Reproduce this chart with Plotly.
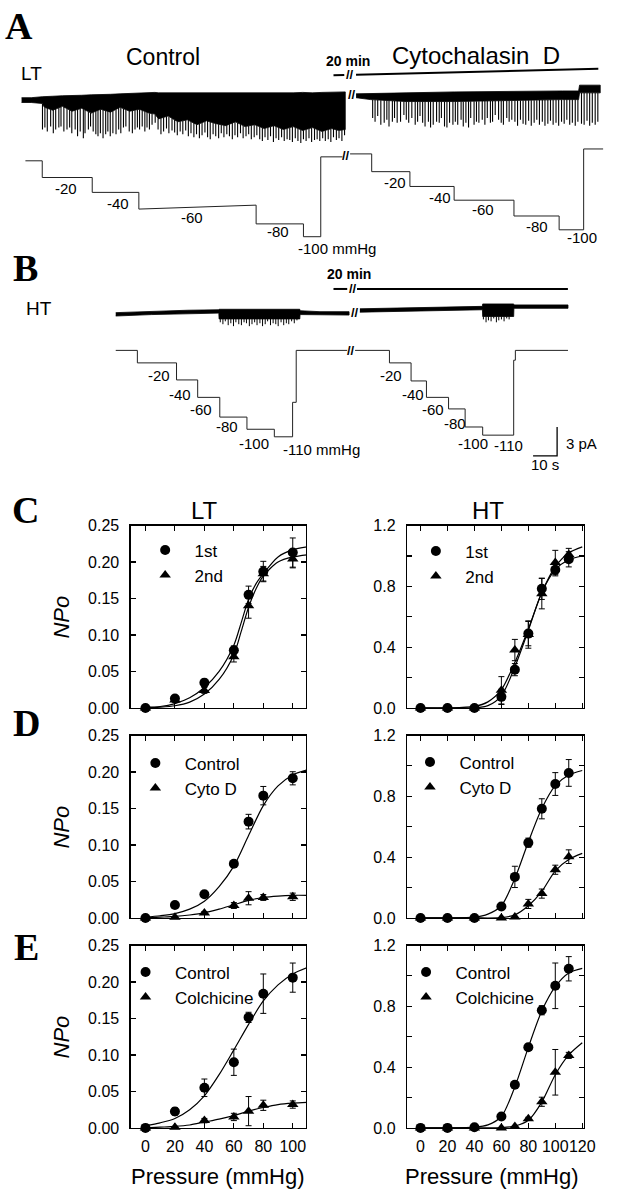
import numpy as np
import plotly.graph_objects as go

W, H = 626, 1200
SANS = "Liberation Sans"
SERIF = "Liberation Serif"

# =====================================================================
# DATA
# =====================================================================
# ---- Panels C-E : NPo versus suction pressure (mmHg) ----
lt_pressure = [0, 20, 40, 60, 70, 80, 100]
ht_pressure = [0, 20, 40, 60, 70, 80, 90, 100, 110]

C_lt_first = [0, 0.013, 0.0345, 0.079, 0.155, 0.187, 0.213]
C_lt_first_err = [0, 0.004, 0.005, 0.006, 0.012, 0.014, 0.020]
C_lt_second = [0, 0.011, 0.024, 0.070, 0.140, 0.184, 0.204]
C_lt_second_err = [0, 0.003, 0.004, 0.007, 0.017, 0.010, 0.012]
C_ht_first = [0, 0, 0, 0.073, 0.252, 0.489, 0.784, 0.909, 0.978]
C_ht_first_err = [0, 0, 0, 0.05, 0.04, 0.08, 0.07, 0.04, 0.05]
C_ht_second = [0, 0, 0, 0.116, 0.381, 0.483, 0.752, 0.957, 1.01]
C_ht_second_err = [0, 0, 0, 0.09, 0.07, 0.09, 0.10, 0.08, 0.04]

D_lt_control = [0, 0.0176, 0.0324, 0.0743, 0.132, 0.1676, 0.1914]
D_lt_control_err = [0, 0.002, 0.003, 0.003, 0.010, 0.0126, 0.009]
D_lt_cyto = [0, 0.001, 0.0068, 0.017, 0.027, 0.028, 0.029]
D_lt_cyto_err = [0, 0.001, 0.002, 0.004, 0.009, 0.004, 0.005]
D_ht_control = [0, 0, 0, 0.075, 0.27, 0.495, 0.718, 0.881, 0.954]
D_ht_control_err = [0, 0, 0, 0.02, 0.07, 0.03, 0.066, 0.075, 0.088]
D_ht_cyto = [0, 0, 0, 0.0, 0.006, 0.092, 0.16, 0.317, 0.403]
D_ht_cyto_err = [0, 0, 0, 0, 0, 0.03, 0.03, 0.03, 0.045]

E_lt_control = [0, 0.0225, 0.055, 0.090, 0.1515, 0.184, 0.206]
E_lt_control_err = [0, 0.005, 0.012, 0.018, 0.007, 0.027, 0.020]
E_lt_colch = [0, 0.001, 0.010, 0.015, 0.023, 0.031, 0.032]
E_lt_colch_err = [0, 0.001, 0.003, 0.005, 0.020, 0.007, 0.005]
E_ht_control = [0, 0, 0.004, 0.075, 0.284, 0.531, 0.774, 0.935, 1.047]
E_ht_control_err = [0, 0, 0, 0.02, 0.02, 0.02, 0.03, 0.15, 0.08]
E_ht_colch = [0, 0, 0, 0, 0.01, 0.06, 0.172, 0.366, 0.477]
E_ht_colch_err = [0, 0, 0, 0, 0, 0.01, 0.03, 0.15, 0.02]

# fitted Boltzmann curves
C_lt_fit_x = [0, 10, 20, 30, 40, 50, 60, 65, 70, 75, 80, 90, 100, 110]
C_lt_fit_first = [0.001, 0.002, 0.006, 0.014, 0.028, 0.050, 0.086, 0.117, 0.149, 0.170, 0.184, 0.207, 0.217, 0.221]
C_lt_fit_second = [0.000, 0.001, 0.003, 0.008, 0.019, 0.039, 0.073, 0.105, 0.138, 0.163, 0.181, 0.200, 0.207, 0.210]
C_ht_fit_x = [0, 20, 40, 50, 60, 70, 80, 90, 100, 110, 120]
C_ht_fit_first = [0, 0, 0.0, 0.015, 0.08, 0.27, 0.51, 0.76, 0.91, 0.975, 1.0]
C_ht_fit_second = [0, 0, 0.01, 0.04, 0.12, 0.30, 0.52, 0.76, 0.93, 1.02, 1.06]

D_lt_fit_x = [0, 10, 20, 30, 40, 50, 60, 70, 80, 90, 100, 110]
D_lt_fit_control = [0.001, 0.003, 0.006, 0.012, 0.023, 0.043, 0.071, 0.113, 0.154, 0.181, 0.196, 0.203]
D_lt_fit_cyto = [0.0, 0.001, 0.002, 0.004, 0.007, 0.012, 0.018, 0.024, 0.028, 0.030, 0.031, 0.031]
D_ht_fit_control_x = [0, 20, 40, 50, 60, 70, 80, 90, 100, 110, 120]
D_ht_fit_control = [0, 0, 0.005, 0.025, 0.08, 0.26, 0.50, 0.72, 0.87, 0.94, 0.97]
D_ht_fit_cyto_x = [0, 20, 40, 60, 70, 80, 90, 100, 110, 120]
D_ht_fit_cyto = [0, 0, 0, 0.002, 0.02, 0.08, 0.175, 0.31, 0.385, 0.425]

E_lt_fit_x = [0, 10, 20, 30, 40, 50, 60, 70, 80, 90, 100, 110]
E_lt_fit_control = [0.003, 0.007, 0.013, 0.025, 0.044, 0.073, 0.107, 0.142, 0.174, 0.196, 0.211, 0.220]
E_lt_fit_colch = [0.0, 0.001, 0.002, 0.004, 0.008, 0.012, 0.017, 0.023, 0.028, 0.032, 0.034, 0.035]
E_ht_fit_x = [0, 20, 40, 50, 60, 70, 80, 90, 100, 110, 120]
E_ht_fit_control = [0, 0, 0.005, 0.02, 0.075, 0.27, 0.53, 0.77, 0.93, 1.02, 1.05]
E_ht_fit_colch = [0, 0, 0, 0.0, 0.002, 0.012, 0.05, 0.17, 0.35, 0.48, 0.56]

# tick labels
lt_xticks = [0, 20, 40, 60, 80, 100]
ht_xticks = [0, 20, 40, 60, 80, 100, 120]
lt_yticks = [0, 0.05, 0.10, 0.15, 0.20, 0.25]
lt_yticktext = ["0.00", "0.05", "0.10", "0.15", "0.20", "0.25"]
ht_yticks = [0, 0.2, 0.4, 0.6, 0.8, 1.0, 1.2]
ht_yticktext = ["0.0", "", "0.4", "", "0.8", "", "1.2"]

# ---- Panel A : LT channel current record (time s, current pA) ----
lt_ctrl_band_t = [0, 4, 8.6, 9.5, 13, 17, 21, 25, 29, 33, 37, 41, 45, 49, 53, 55.5, 57, 61, 65, 69,
                  73, 77, 81, 85, 89, 93, 97, 101, 105, 109, 113, 117, 121, 125, 129, 132, 134.7]
lt_ctrl_band_top = [-0.1, -0.1, 0.0, 0.0, 0.05, 0.1, 0.1, 0.15, 0.2, 0.2, 0.25, 0.3, 0.35, 0.4, 0.45,
                    0.45, 0.4, 0.4, 0.35, 0.4, 0.4, 0.35, 0.4, 0.4, 0.35, 0.4, 0.4, 0.4, 0.35, 0.4,
                    0.4, 0.45, 0.4, 0.45, 0.45, 0.5, 0.5]
lt_ctrl_band_bottom = [-0.6, -0.6, -0.7, -1.1, -1.4, -1.0, -1.5, -1.2, -1.7, -1.3, -1.6, -1.1, -1.5,
                       -1.3, -1.7, -1.8, -2.3, -2.0, -2.6, -2.4, -2.9, -2.5, -2.8, -3.0, -2.6, -3.1,
                       -2.9, -3.3, -3.0, -3.4, -3.1, -3.5, -3.2, -3.6, -3.3, -3.5, -3.4]
lt_ctrl_open_t = [8.7, 9.7, 10.7, 12.1, 13.2, 14.2, 15.5, 16.4, 17.6, 18.9, 20.0, 20.9, 22.3, 23.3, 24.4,
                  25.7, 26.4, 27.8, 28.7, 29.8, 30.9, 31.8, 32.8, 33.9, 35.0, 35.9, 36.9, 38.0, 39.3, 40.4,
                  41.3, 42.4, 43.4, 44.8, 46.1, 47.2, 48.2, 49.1, 50.2, 51.3, 52.2, 53.2, 54.3, 55.6,
                  56.8, 58.0, 59.1, 60.3, 61.3, 62.6, 63.7, 64.8, 66.0, 67.1, 68.3, 69.4, 70.5, 71.7, 72.8,
                  74.0, 75.1, 76.3, 77.4, 78.5, 79.7, 80.8, 82.0, 83.1, 84.2, 85.4, 86.5, 87.7, 88.8, 89.9,
                  91.1, 92.2, 93.4, 94.5, 95.6, 96.8, 97.9, 99.1, 100.2, 101.3, 102.5, 103.6, 104.8, 105.9,
                  107.0, 108.2, 109.3, 110.5, 111.6, 112.7, 113.9, 115.0, 116.2, 117.3, 118.4, 119.6, 120.7,
                  121.9, 123.0, 124.1, 125.3, 126.4, 127.6, 128.7, 129.8, 131.0, 132.1, 133.3, 134.4]
lt_ctrl_open_amp = [-3.4, -3.2, -3.6, -3.1, -3.8, -3.4, -3.2, -3.1, -3.6, -3.4,
                    -3.2, -3.8, -3.4, -4.1, -3.6, -4.3, -3.8, -3.4, -3.1, -3.6,
                    -3.9, -4.1, -3.8, -4.3, -3.9, -3.6, -4.1, -3.8, -3.9, -3.4,
                    -3.8, -3.2, -3.1, -3.6, -3.8, -3.4, -3.2, -3.4, -3.1, -3.6,
                    -3.2, -3.4, -2.9, -2.7,
                    -3.4, -3.9, -3.6, -3.3, -3.8, -3.5, -3.7, -4.0, -3.6, -3.9, -3.5, -4.1,
                    -3.8, -4.2, -3.9, -4.3, -4.0, -3.7, -4.2, -4.4, -3.9, -4.1, -4.3, -3.8,
                    -4.2, -3.9, -4.1, -4.4, -4.0, -4.2, -3.8, -4.3, -4.1, -3.9, -4.4, -4.2,
                    -4.0, -4.4, -4.6, -4.2, -4.5, -4.1, -4.7, -4.3, -4.5, -4.2, -4.6, -4.4,
                    -4.5, -4.7, -4.3, -4.6, -4.8, -4.4, -4.6, -4.3, -4.7, -4.5, -4.4, -4.6,
                    -4.3, -4.6, -4.4, -4.7, -4.2, -4.5, -4.3, -4.6, -4.0]

lt_cyto_band_t = [139.2, 145.3, 160, 180, 205.3, 225, 231.8, 232.2, 240.8]
lt_cyto_band_top = [0.3, 0.35, 0.4, 0.5, 0.6, 0.6, 0.6, 1.2, 1.2]
lt_cyto_band_bottom = [-0.1, -0.3, -0.5, -0.5, -0.4, -0.3, -0.3, 0.4, 0.4]
lt_cyto_open_t = [146.1, 147.1, 148.2, 149.5, 150.9, 152.0, 152.9, 154.3, 155.2, 156.3,
                  157.7, 159.1, 160.1, 161.1, 162.4, 163.8, 164.8, 165.8, 166.9, 167.9,
                  169.3, 170.2, 171.3, 172.7, 173.8, 174.7, 176.0, 177.0, 178.1, 179.5,
                  180.5, 181.5, 182.9, 183.8, 184.9, 186.0, 186.9, 188.3, 189.3, 190.3,
                  191.7, 192.8, 193.8, 195.1, 196.0, 197.1, 198.5, 199.6, 200.5, 201.9,
                  202.9, 204.0,
                  205.3, 206.4, 207.6, 208.7, 209.8, 211.0, 212.1, 213.3, 214.4, 215.5,
                  216.7, 217.8, 219.0, 220.1, 221.2, 222.4, 223.5, 224.7, 225.8, 226.9,
                  228.1, 229.2, 230.4, 231.5, 233.0, 234.1, 235.3, 236.4, 237.5, 238.7, 239.8]
lt_cyto_open_amp = [-2.2, -2.6, -2.0, -2.9, -2.7, -2.4, -3.1, -2.6, -2.2, -2.7,
                    -2.6, -1.9, -2.4, -2.7, -2.2, -2.9, -2.6, -2.0, -2.7, -3.1,
                    -2.6, -3.2, -2.9, -2.6, -2.7, -2.2, -3.1, -3.2, -2.7, -2.9,
                    -2.6, -2.9, -2.4, -3.1, -2.7, -3.2, -2.2, -2.9, -2.6, -2.7,
                    -2.4, -2.9, -2.2, -2.7, -2.6, -1.9, -2.4, -2.7, -2.9, -2.2,
                    -2.6, -2.4,
                    -2.6, -3.0, -2.4, -2.8, -2.9, -2.5, -3.0, -2.7, -2.4, -2.9,
                    -2.6, -3.0, -2.8, -2.5, -2.9, -2.7, -3.0, -2.6, -2.8, -2.4,
                    -2.9, -2.7, -3.0, -2.6, -2.8, -2.9, -2.5, -3.0, -2.7, -2.9, -2.6]

# ---- Panel A : pressure monitor (time s, mmHg) ----
lt_press_ctrl_t = [1.6, 8.6, 8.6, 29.4, 29.4, 48.8, 48.8, 97.6, 97.6, 117.3, 117.3, 124.5, 124.5, 133.5]
lt_press_ctrl_p = [0, 0, -22, -22, -41.6, -41.6, -63.6, -58.4, -83.1, -83.1, -100, -100, 5.2, 5.2]
lt_press_cyto_t = [136.7, 145.7, 145.7, 161.6, 161.6, 180.0, 180.0, 204.9, 204.9, 223.7, 223.7, 233.9, 233.9, 242.0]
lt_press_cyto_p = [9.1, 9.1, -14.3, -14.3, -33.8, -33.8, -51.9, -51.9, -72.7, -72.7, -90.9, -90.9, 15.6, 15.6]
lt_step_labels = ["-20", "-40", "-60", "-80", "-100 mmHg", "-20", "-40", "-60", "-80", "-100"]

# ---- Panel B : HT channel current record ----
ht_ctrl_band_t = [0, 15, 30, 42.9, 43.0, 76.6, 76.7, 85, 97.1]
ht_ctrl_band_top = [0.1, 0.25, 0.35, 0.4, 0.45, 0.45, 0.3, 0.2, 0.2]
ht_ctrl_band_bottom = [-0.25, -0.1, 0.0, 0.05, -0.55, -0.55, -0.1, -0.15, -0.15]
ht_ctrl_open_t = [43.5, 44.6, 45.6, 46.8, 47.9, 49.0, 50.0, 51.2, 52.3, 53.4, 54.4, 55.6, 56.7, 57.8,
                  58.8, 60.0, 61.1, 62.2, 63.2, 64.4, 65.5, 66.6, 67.6, 68.8, 69.9, 71.0, 72.0, 73.2,
                  74.3, 75.4, 76.3]
ht_ctrl_open_amp = [-0.9, -1.1, -0.8, -1.2, -1.0, -1.3, -0.9, -1.1, -1.2, -0.9, -1.0, -1.3, -1.1, -0.9,
                    -1.2, -1.0, -1.3, -1.1, -0.8, -1.2, -1.0, -1.1, -1.3, -0.9, -1.2, -1.0, -1.1, -0.8,
                    -1.0, -0.7, -0.5]
ht_cyto_band_t = [101.6, 120, 140, 152.6, 152.7, 165.6, 165.7, 175, 188.2]
ht_cyto_band_top = [0.5, 0.6, 0.7, 0.75, 1.0, 1.0, 0.9, 0.9, 0.9]
ht_cyto_band_bottom = [0.15, 0.25, 0.35, 0.4, -0.3, -0.3, 0.55, 0.55, 0.55]
ht_cyto_open_t = [153.0, 154.1, 155.1, 156.2, 157.3, 158.4, 159.4, 160.5, 161.6, 162.7, 163.7, 164.8]
ht_cyto_open_amp = [-0.6, -0.9, -0.7, -0.8, -0.5, -0.9, -0.7, -0.6, -0.8, -0.5, -0.6, -0.3]

ht_press_ctrl_t = [0, 9.0, 9.0, 25.3, 25.3, 34.1, 34.1, 43.3, 43.3, 54.6, 54.6, 66.0, 66.0, 73.6, 73.6, 75.1, 75.1, 96.3]
ht_press_ctrl_p = [0, 0, -15.9, -15.9, -37.6, -37.6, -59.8, -59.8, -84.9, -84.9, -100.4, -100.4, -110, -110, -66.1, -66.1, 0, 0]
ht_press_cyto_t = [99.6, 113.9, 113.9, 122.9, 122.9, 129.3, 129.3, 138.5, 138.5, 145.4, 145.4, 152.7, 152.7, 165.6, 165.6, 166.3, 166.3, 188.2]
ht_press_cyto_p = [0, 0, -15.9, -15.9, -38.9, -38.9, -59.8, -59.8, -74.5, -74.5, -97.5, -97.5, -107.9, -107.9, -12.5, -12.5, 0, 0]
ht_step_labels = ["-20", "-40", "-60", "-80", "-100", "-110 mmHg", "-20", "-40", "-60", "-80", "-100", "-110"]

scale_time_s = 10
scale_current_pA = 3

# =====================================================================
# LAYOUT CONSTANTS (pixel geometry of the page)
# =====================================================================
def px_x(px):
    return px / W


def px_y(py):
    return 1 - py / H


def xdom(a, b):
    return [a / W, b / W]


def ydom(top, bot):
    return [1 - bot / H, 1 - top / H]


LEFT_X = (133.3, 312)
RIGHT_X = (415, 595)
ROWS = {"C": (525, 710), "D": (738, 923), "E": (951, 1136)}

PX_PER_S = 2.45
PX_PER_PA = 9.78
A_T0 = 22
B_T0 = 118

fig = go.Figure()

# =====================================================================
# Panels C-E
# =====================================================================
panels = [
    (1, "C", "lt", [("1st", C_lt_first, C_lt_first_err), ("2nd", C_lt_second, C_lt_second_err)],
     [(C_lt_fit_x, C_lt_fit_first), (C_lt_fit_x, C_lt_fit_second)], (167, 545)),
    (2, "C", "ht", [("1st", C_ht_first, C_ht_first_err), ("2nd", C_ht_second, C_ht_second_err)],
     [(C_ht_fit_x, C_ht_fit_first), (C_ht_fit_x, C_ht_fit_second)], (443, 546)),
    (3, "D", "lt", [("Control", D_lt_control, D_lt_control_err), ("Cyto D", D_lt_cyto, D_lt_cyto_err)],
     [(D_lt_fit_x, D_lt_fit_control), (D_lt_fit_x, D_lt_fit_cyto)], (157, 761)),
    (4, "D", "ht", [("Control", D_ht_control, D_ht_control_err), ("Cyto D", D_ht_cyto, D_ht_cyto_err)],
     [(D_ht_fit_control_x, D_ht_fit_control), (D_ht_fit_cyto_x, D_ht_fit_cyto)], (437, 760)),
    (5, "E", "lt", [("Control", E_lt_control, E_lt_control_err), ("Colchicine", E_lt_colch, E_lt_colch_err)],
     [(E_lt_fit_x, E_lt_fit_control), (E_lt_fit_x, E_lt_fit_colch)], (147, 973)),
    (6, "E", "ht", [("Control", E_ht_control, E_ht_control_err), ("Colchicine", E_ht_colch, E_ht_colch_err)],
     [(E_ht_fit_x, E_ht_fit_control), (E_ht_fit_x, E_ht_fit_colch)], (433, 973)),
]

layout_axes = {}
legends = {}
for idx, row, side, series, fits, legpos in panels:
    sfx = "" if idx == 1 else str(idx)
    xa, ya = "x" + sfx, "y" + sfx
    lg = "legend" + sfx
    xs = lt_pressure if side == "lt" else ht_pressure
    for fx, fy in fits:
        fig.add_trace(go.Scatter(x=fx, y=fy, mode="lines", xaxis=xa, yaxis=ya,
                                 line=dict(color="black", width=1.2, shape="spline", smoothing=0.8),
                                 showlegend=False, hoverinfo="skip"))
    # triangles first so that circles sit on top where they coincide
    for rank, (name, vals, err), sym in reversed(list(zip([1, 2], series, ["circle", "triangle-up"]))):
        fig.add_trace(go.Scatter(x=xs, y=vals, mode="markers", name="\u00a0\u00a0" + name,
                                 xaxis=xa, yaxis=ya,
                                 legend=lg, legendrank=rank, cliponaxis=False,
                                 marker=dict(symbol=sym, size=10, color="black"),
                                 error_y=dict(type="data", array=err, color="black", thickness=1, width=3)))
    xd = LEFT_X if side == "lt" else RIGHT_X
    top, bot = ROWS[row]
    common = dict(showline=True, linecolor="black", linewidth=1.3, mirror="ticks", ticks="inside",
                  ticklen=5, tickwidth=1.1, tickcolor="black", showgrid=False, zeroline=False,
                  tickfont=dict(family=SANS, size=16, color="black"), fixedrange=True)
    layout_axes["xaxis" + sfx] = dict(
        domain=xdom(*xd), anchor=ya,
        range=[-10, 109] if side == "lt" else [-10, 121],
        tickmode="array", tickvals=lt_xticks if side == "lt" else ht_xticks, tickangle=0,
        showticklabels=(row == "E"), ticklabelstandoff=4, **common)
    layout_axes["yaxis" + sfx] = dict(
        domain=ydom(top, bot), anchor=xa,
        range=[0, 0.25] if side == "lt" else [0, 1.2],
        tickmode="array", tickvals=lt_yticks if side == "lt" else ht_yticks,
        ticktext=lt_yticktext if side == "lt" else ht_yticktext,
        ticklabelstandoff=7, **common)
    mx, my = legpos
    legends[lg] = dict(x=px_x(mx - 19), y=px_y(my - 13), xanchor="left", yanchor="top",
                       bgcolor="rgba(0,0,0,0)", borderwidth=0, tracegroupgap=0,
                       itemclick=False, itemdoubleclick=False,
                       font=dict(family=SANS, size=17, color="black"))


# =====================================================================
# Panels A and B : single-channel records
# =====================================================================
def band_trace(t, top, bottom, xa, ya):
    return go.Scatter(x=list(t) + list(t)[::-1], y=list(top) + list(bottom)[::-1],
                      fill="toself", fillcolor="black", mode="lines",
                      line=dict(color="black", width=0.8), xaxis=xa, yaxis=ya,
                      showlegend=False, hoverinfo="skip")


def openings_trace(t, amp, band_t, band_bottom, xa, ya, width=1.1):
    base = np.interp(t, band_t, band_bottom)
    xs, ys = [], []
    for ti, b, a in zip(t, base, amp):
        xs += [ti, ti, None]
        ys += [b, a, None]
    return go.Scatter(x=xs, y=ys, mode="lines", line=dict(color="black", width=width),
                      xaxis=xa, yaxis=ya, showlegend=False, hoverinfo="skip")


def step_trace(t, p, xa, ya):
    return go.Scatter(x=t, y=p, mode="lines", line=dict(color="#222", width=1.0),
                      xaxis=xa, yaxis=ya, showlegend=False, hoverinfo="skip")


# A (LT)
fig.add_trace(band_trace(lt_ctrl_band_t, lt_ctrl_band_top, lt_ctrl_band_bottom, "x7", "y7"))
fig.add_trace(openings_trace(lt_ctrl_open_t, lt_ctrl_open_amp, lt_ctrl_band_t, lt_ctrl_band_bottom, "x7", "y7"))
fig.add_trace(band_trace(lt_cyto_band_t, lt_cyto_band_top, lt_cyto_band_bottom, "x7", "y7"))
fig.add_trace(openings_trace(lt_cyto_open_t, lt_cyto_open_amp, lt_cyto_band_t, lt_cyto_band_bottom, "x7", "y7"))
fig.add_trace(step_trace(lt_press_ctrl_t, lt_press_ctrl_p, "x7", "y8"))
fig.add_trace(step_trace(lt_press_cyto_t, lt_press_cyto_p, "x7", "y8"))

# B (HT)
fig.add_trace(band_trace(ht_ctrl_band_t, ht_ctrl_band_top, ht_ctrl_band_bottom, "x8", "y9"))
fig.add_trace(openings_trace(ht_ctrl_open_t, ht_ctrl_open_amp, ht_ctrl_band_t, ht_ctrl_band_bottom, "x8", "y9", 1.0))
fig.add_trace(band_trace(ht_cyto_band_t, ht_cyto_band_top, ht_cyto_band_bottom, "x8", "y9"))
fig.add_trace(openings_trace(ht_cyto_open_t, ht_cyto_open_amp, ht_cyto_band_t, ht_cyto_band_bottom, "x8", "y9", 1.0))
fig.add_trace(step_trace(ht_press_ctrl_t, ht_press_ctrl_p, "x8", "y10"))
fig.add_trace(step_trace(ht_press_cyto_t, ht_press_cyto_p, "x8", "y10"))

# calibration bar (10 s, 3 pA) in the HT current axes
SB_CORNER_T = (568 - B_T0) / PX_PER_S
SB_CORNER_I = -(454.3 - 310) / PX_PER_PA
fig.add_trace(go.Scatter(x=[SB_CORNER_T - scale_time_s, SB_CORNER_T, SB_CORNER_T],
                         y=[SB_CORNER_I, SB_CORNER_I, SB_CORNER_I + scale_current_pA],
                         mode="lines", line=dict(color="black", width=1.3),
                         xaxis="x8", yaxis="y9", showlegend=False, hoverinfo="skip"))

hidden = dict(visible=False, fixedrange=True)
layout_axes["xaxis7"] = dict(domain=[0, 1], anchor="y7",
                             range=[(0 - A_T0) / PX_PER_S, (W - A_T0) / PX_PER_S], **hidden)
layout_axes["xaxis8"] = dict(domain=[0, 1], anchor="y9",
                             range=[(0 - B_T0) / PX_PER_S, (W - B_T0) / PX_PER_S], **hidden)
layout_axes["yaxis7"] = dict(domain=ydom(55, 150), anchor="x7",
                             range=[-(150 - 90) / PX_PER_PA, (90 - 55) / PX_PER_PA], **hidden)
layout_axes["yaxis8"] = dict(domain=ydom(130, 255), anchor="x7",
                             range=[-(255 - 155) / 0.77, (155 - 130) / 0.77], **hidden)
layout_axes["yaxis9"] = dict(domain=ydom(280, 470), anchor="x8",
                             range=[-(470 - 310) / PX_PER_PA, (310 - 280) / PX_PER_PA], **hidden)
layout_axes["yaxis10"] = dict(domain=ydom(330, 450), anchor="x8",
                              range=[-(450 - 347.3) / 0.797, (347.3 - 330) / 0.797], **hidden)

# =====================================================================
# Text annotations
# =====================================================================
ann = []


def text(s, px, py, size, family=SANS, angle=0, xanchor="center"):
    ann.append(dict(text=s, x=px_x(px), y=px_y(py), xref="paper", yref="paper",
                    xanchor=xanchor, yanchor="middle", showarrow=False, textangle=angle,
                    font=dict(family=family, size=size, color="black")))


# panel letters
for letter, (lx, ly) in {"A": (19, 18), "B": (26, 264), "C": (26, 509), "D": (27, 725), "E": (27, 952)}.items():
    text("<b>%s</b>" % letter, lx, ly, 38, SERIF)

# A header
text("LT", 32, 66, 19)
text("Control", 166, 50, 23)
text("Cytochalasin\u00a0\u00a0D", 485, 48, 24)
text("<b>20 min</b>", 355, 54, 14)
# B header
text("HT", 40, 305, 19)
text("<b>20 min</b>", 356, 270, 14)

# break marks
for bx, by in [(357, 67), (359, 88), (353, 150), (360, 285), (362, 309), (358, 347)]:
    text("<b>//</b>", bx, by, 13)

lt_label_pos = [(67, 183), (120, 198), (196, 213), (283, 227), (344, 244),
                (403, 177), (449, 192), (492, 204), (547, 222), (593, 233)]
for s, (lx, ly) in zip(lt_step_labels, lt_label_pos):
    text(s, lx, ly, 15)
ht_label_pos = [(162, 373), (184, 392), (205, 407), (231, 425), (259, 442), (328, 448),
                (399, 373), (421, 392), (441, 407), (464, 421), (482, 442), (518, 444)]
for s, (lx, ly) in zip(ht_step_labels, ht_label_pos):
    text(s, lx, ly, 15)
text("%d pA" % scale_current_pA, 593, 442, 15)
text("%d s" % scale_time_s, 556, 463, 15)

# column titles and axis titles
text("LT", 208, 510, 24)
text("HT", 498, 510, 24)
for row, (top, bot) in ROWS.items():
    text("<i>NPo</i>", 63, (top + bot) / 2, 22, angle=-90)
text("Pressure (mmHg)", 222, 1185, 22)
text("Pressure (mmHg)", 502, 1185, 22)

# treatment bars
shapes = []
for (x0, y0, x1, y1) in [(340, 68.3, 351, 68.0), (363, 67.7, 610, 61.7),
                         (340, 285, 354, 285), (364, 285, 579, 285)]:
    shapes.append(dict(type="line", xref="paper", yref="paper", x0=px_x(x0), y0=px_y(y0),
                       x1=px_x(x1), y1=px_y(y1), line=dict(color="black", width=2)))

fig.update_layout(width=W, height=H, autosize=False, margin=dict(l=0, r=0, t=0, b=0),
                  paper_bgcolor="white", plot_bgcolor="rgba(0,0,0,0)",
                  annotations=ann, shapes=shapes, hovermode=False,
                  **layout_axes, **legends)

fig.write_html("out.html", config={"displayModeBar": False, "staticPlot": True},
               post_script="document.body.style.margin='0';document.body.style.overflow='hidden';")
